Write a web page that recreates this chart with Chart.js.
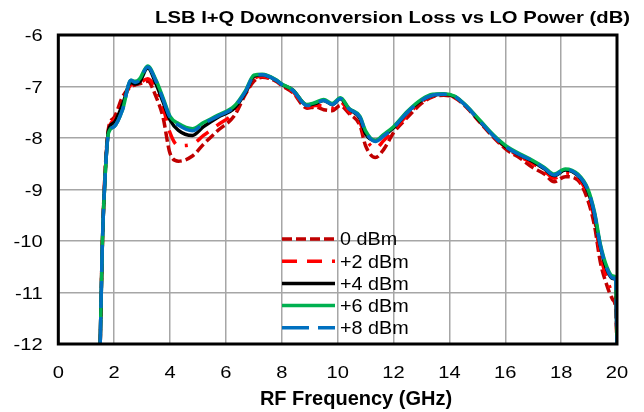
<!DOCTYPE html>
<html>
<head>
<meta charset="utf-8">
<script src="https://cdn.jsdelivr.net/npm/chart.js@4/dist/chart.umd.min.js"></script>
<style>
html,body{margin:0;padding:0;background:#fff;}
#wrap{width:644px;height:412px;}
</style>
</head>
<body>
<div id="wrap"><canvas id="c" width="644" height="412"></canvas></div>
<script>
const chartTitle = "LSB I+Q Downconversion Loss vs LO Power (dB)";
const xAxisTitle = "RF Frequency (GHz)";
const seriesNames = ["0 dBm", "+2 dBm", "+4 dBm", "+6 dBm", "+8 dBm"];
const xTicks = [0, 2, 4, 6, 8, 10, 12, 14, 16, 18, 20];
const yTicks = [-12, -11, -10, -9, -8, -7, -6];

const freq = [1.5, 1.58, 1.68, 1.8, 2.0, 2.3, 2.6, 2.75, 2.9, 3.2, 3.5, 3.75, 4.0, 4.3, 4.8, 5.2, 5.7, 6.3, 6.7, 7.0, 7.3, 7.8, 8.0, 8.4, 8.9, 9.2, 9.5, 9.8, 10.1, 10.4, 10.8, 11.0, 11.35, 11.65, 12.0, 12.5, 13.0, 13.4, 13.8, 14.2, 14.6, 15.1, 15.6, 16.1, 16.5, 17.0, 17.4, 17.75, 18.15, 18.6, 18.95, 19.2, 19.4, 19.65, 19.85, 19.95, 20.0];

const loss0 = [-12, -10.0, -8.6, -7.8, -7.6, -7.2, -7.0, -6.97, -6.95, -6.9, -7.2, -7.6, -8.3, -8.45, -8.35, -8.12, -7.86, -7.57, -7.15, -6.9, -6.82, -6.9, -6.98, -7.12, -7.42, -7.4, -7.45, -7.47, -7.37, -7.52, -7.76, -8.15, -8.38, -8.22, -7.9, -7.6, -7.33, -7.2, -7.17, -7.22, -7.4, -7.7, -8.0, -8.25, -8.38, -8.58, -8.7, -8.85, -8.75, -8.82, -9.2, -9.72, -10.4, -10.88, -11.14, -11.3, -12];
const loss2 = [-12, -10.0, -8.65, -7.85, -7.65, -7.3, -6.97, -6.95, -6.93, -6.85, -7.05, -7.4, -7.9, -8.15, -8.12, -7.95, -7.75, -7.5, -7.12, -6.85, -6.8, -6.9, -6.97, -7.1, -7.4, -7.37, -7.38, -7.42, -7.3, -7.48, -7.7, -8.0, -8.2, -8.05, -7.85, -7.55, -7.3, -7.18, -7.16, -7.21, -7.39, -7.69, -7.98, -8.22, -8.35, -8.5, -8.64, -8.78, -8.68, -8.77, -9.1, -9.6, -10.25, -10.75, -11.0, -11.1, -12];
const loss4 = [-12, -10.0, -8.7, -7.85, -7.7, -7.35, -6.92, -6.95, -6.92, -6.64, -6.95, -7.3, -7.65, -7.85, -7.95, -7.78, -7.6, -7.42, -7.12, -6.8, -6.77, -6.88, -6.96, -7.07, -7.36, -7.33, -7.27, -7.35, -7.24, -7.43, -7.62, -7.92, -8.05, -7.95, -7.8, -7.5, -7.27, -7.17, -7.15, -7.2, -7.38, -7.68, -7.97, -8.2, -8.32, -8.46, -8.6, -8.73, -8.62, -8.73, -9.02, -9.5, -10.1, -10.57, -10.73, -10.75, -12];
const loss6 = [-12, -10.0, -8.7, -7.9, -7.78, -7.45, -6.88, -6.9, -6.86, -6.6, -6.88, -7.22, -7.58, -7.72, -7.82, -7.7, -7.56, -7.38, -7.08, -6.78, -6.76, -6.87, -6.95, -7.07, -7.35, -7.31, -7.25, -7.33, -7.22, -7.42, -7.58, -7.86, -8.05, -7.93, -7.78, -7.48, -7.25, -7.15, -7.14, -7.19, -7.37, -7.66, -7.95, -8.18, -8.3, -8.44, -8.57, -8.7, -8.6, -8.7, -8.98, -9.45, -10.05, -10.52, -10.68, -10.7, -12];
const loss8 = [-12, -10.0, -8.7, -7.9, -7.78, -7.45, -6.88, -6.92, -6.88, -6.62, -6.9, -7.25, -7.6, -7.75, -7.86, -7.72, -7.58, -7.4, -7.1, -6.8, -6.77, -6.88, -6.96, -7.08, -7.37, -7.33, -7.27, -7.35, -7.24, -7.43, -7.6, -7.88, -8.07, -7.96, -7.8, -7.5, -7.27, -7.17, -7.15, -7.2, -7.38, -7.68, -7.97, -8.2, -8.32, -8.45, -8.59, -8.72, -8.61, -8.72, -9.0, -9.48, -10.08, -10.55, -10.72, -10.74, -12];

const seriesValues = [loss0, loss2, loss4, loss6, loss8];
const seriesColors = ["#c00000", "#ff0000", "#000000", "#00b050", "#0070c0"];
const seriesDash = [[10, 4], [15, 10, 15, 10, 3, 10], [], [], [27, 9]];
const seriesOrder = [5, 4, 3, 2, 1];

const FONT = "'Liberation Sans', Arial, Helvetica, sans-serif";

const datasets = seriesNames.map((name, k) => ({
  label: name,
  data: freq.map((f, i) => ({ x: f, y: seriesValues[k][i] })),
  borderColor: seriesColors[k],
  backgroundColor: seriesColors[k],
  borderDash: seriesDash[k],
  borderWidth: 3.5,
  pointRadius: 0,
  fill: false,
  cubicInterpolationMode: 'monotone',
  order: seriesOrder[k]
}));

function stretchedText(ctx, text, x, y, sx, align) {
  ctx.save();
  ctx.translate(x, y);
  ctx.scale(sx, 1);
  ctx.textAlign = align;
  ctx.fillText(text, 0, 0);
  ctx.restore();
}

const decorPlugin = {
  id: 'decor',
  afterDatasetsDraw(chart) {
    const { ctx, chartArea: a } = chart;
    ctx.save();
    ctx.strokeStyle = '#000';
    ctx.lineWidth = 3;
    ctx.setLineDash([]);
    ctx.strokeRect(a.left, a.top, a.right - a.left, a.bottom - a.top);
    ctx.restore();
  },
  afterDraw(chart) {
    const { ctx } = chart;
    const xs = chart.scales.x, ys = chart.scales.y;
    ctx.save();
    ctx.fillStyle = '#000';
    ctx.textBaseline = 'alphabetic';
    // title
    ctx.font = "bold 17px " + FONT;
    stretchedText(ctx, chartTitle, 630, 22.7, 1.19, 'right');
    // x-axis title
    ctx.font = "bold 20px " + FONT;
    stretchedText(ctx, xAxisTitle, 356, 405, 1.0, 'center');
    // tick labels
    ctx.font = "16.5px " + FONT;
    xTicks.forEach(v => {
      stretchedText(ctx, String(v), xs.getPixelForValue(v), 377.7, 1.22, 'center');
    });
    yTicks.forEach(v => {
      stretchedText(ctx, String(v), 42.7, ys.getPixelForValue(v) + 6, 1.22, 'right');
    });
    // legend
    const x0 = 282, x1 = 335, tx = 340, y0 = 239, dy = 22.2;
    ctx.font = "17.5px " + FONT;
    chart.data.datasets.forEach((ds, i) => {
      const y = y0 + i * dy;
      ctx.strokeStyle = ds.borderColor;
      ctx.lineWidth = ds.borderWidth;
      ctx.setLineDash(ds.borderDash);
      ctx.beginPath();
      ctx.moveTo(x0, y);
      ctx.lineTo(x1, y);
      ctx.stroke();
      ctx.fillStyle = '#000';
      stretchedText(ctx, ds.label, tx, y + 6.3, 1.13, 'left');
    });
    ctx.restore();
  }
};

new Chart(document.getElementById('c'), {
  type: 'line',
  data: { datasets },
  plugins: [decorPlugin],
  options: {
    responsive: false,
    animation: false,
    events: [],
    layout: { padding: { left: 0, right: 27, top: 35, bottom: 0 } },
    plugins: { legend: { display: false }, title: { display: false }, tooltip: { enabled: false } },
    scales: {
      x: {
        type: 'linear',
        min: 0, max: 20,
        afterBuildTicks: (s) => { s.ticks = xTicks.map(v => ({ value: v })); },
        afterFit: (s) => { s.height = 68; },
        grid: { color: '#a6a6a6', lineWidth: 1.5, drawTicks: false },
        border: { display: false },
        ticks: { display: false }
      },
      y: {
        type: 'linear',
        min: -12, max: -6,
        afterBuildTicks: (s) => { s.ticks = yTicks.map(v => ({ value: v })); },
        afterFit: (s) => { s.width = 58.3; },
        grid: { color: '#a6a6a6', lineWidth: 1.5, drawTicks: false },
        border: { display: false },
        ticks: { display: false }
      }
    }
  }
});
</script>
</body>
</html>
